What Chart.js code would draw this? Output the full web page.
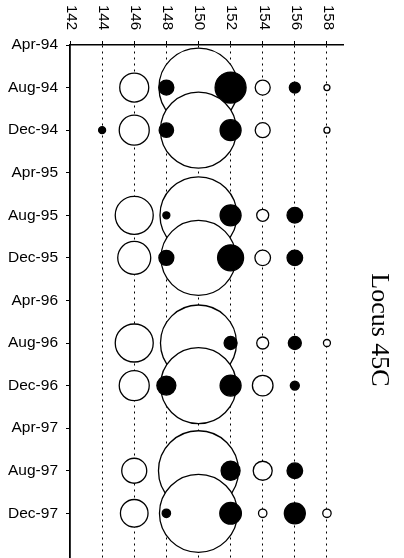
<!DOCTYPE html>
<html>
<head>
<meta charset="utf-8">
<script src="https://cdn.jsdelivr.net/npm/chart.js@4/dist/chart.umd.min.js"></script>
<style>
html,body{margin:0;padding:0;background:#fff;overflow:hidden;}
#c{display:block;}
</style>
</head>
<body>
<canvas id="c" width="404" height="558"></canvas>
<script>
// ---- data ----
const dates = ['Apr-94','Aug-94','Dec-94','Apr-95','Aug-95','Dec-95','Apr-96','Aug-96','Dec-96','Apr-97','Aug-97','Dec-97'];
const xTicks = [142,144,146,148,150,152,154,156,158];
const alleles = [144,146,148,150,152,154,156,158];
// bubble radius (px) of open circles, one row per date, one column per allele (0 = none)
const openSize = [
  [0, 0,    0, 0,    0, 0,    0, 0  ],
  [0, 14.5, 0, 39.5, 0, 7.5,  0, 3  ],
  [0, 15,   0, 38,   0, 7.5,  0, 3  ],
  [0, 0,    0, 0,    0, 0,    0, 0  ],
  [0, 19,   0, 38.5, 0, 6,    0, 0  ],
  [0, 16.5, 0, 37.5, 0, 7.8,  0, 0  ],
  [0, 0,    0, 0,    0, 0,    0, 0  ],
  [0, 19,   0, 38,   0, 6,    0, 3.5],
  [0, 15,   0, 38,   0, 10.3, 0, 0  ],
  [0, 0,    0, 0,    0, 0,    0, 0  ],
  [0, 12.5, 0, 40,   0, 9.5,  0, 0  ],
  [0, 13.8, 0, 39,   0, 4.2,  0, 4.2]
];
// bubble radius (px) of filled circles
const filledSize = [
  [0,   0, 0,   0, 0,    0, 0,    0],
  [0,   0, 7.5, 0, 15.5, 0, 5.5,  0],
  [3.5, 0, 7.2, 0, 10.5, 0, 0,    0],
  [0,   0, 0,   0, 0,    0, 0,    0],
  [0,   0, 3.5, 0, 10.5, 0, 7.8,  0],
  [0,   0, 7.5, 0, 13,   0, 7.8,  0],
  [0,   0, 0,   0, 0,    0, 0,    0],
  [0,   0, 0,   0, 6.5,  0, 6.5,  0],
  [0,   0, 9.5, 0, 10.5, 0, 4.5,  0],
  [0,   0, 0,   0, 0,    0, 0,    0],
  [0,   0, 0,   0, 9.5,  0, 7.8,  0],
  [0,   0, 4.2, 0, 10.8, 0, 10.5, 0]
];
const sideLabel = 'Locus 45C';

// ---- build points: row by row, open circles first, filled on top ----
const points = [], fills = [];
dates.forEach((d, i) => {
  alleles.forEach((a, j) => {
    if (openSize[i][j] > 0) { points.push({x: a, y: i, r: openSize[i][j]}); fills.push('#ffffff'); }
  });
  alleles.forEach((a, j) => {
    if (filledSize[i][j] > 0) { points.push({x: a, y: i, r: filledSize[i][j]}); fills.push('#000000'); }
  });
});

const topLabels = {
  id: 'topLabels',
  afterDraw(chart) {
    const ctx = chart.ctx, xs = chart.scales.x;
    ctx.save();
    ctx.fillStyle = '#000';
    ctx.font = '15px "Liberation Sans", Arial, sans-serif';
    ctx.textAlign = 'left';
    ctx.textBaseline = 'middle';
    xTicks.forEach(v => {
      ctx.save();
      ctx.translate(xs.getPixelForValue(v) + 1, 5);
      ctx.rotate(Math.PI / 2);
      ctx.fillText(String(v), 0, 0);
      ctx.restore();
    });
    ctx.font = '26px "Liberation Serif", "Times New Roman", serif';
    ctx.textAlign = 'center';
    ctx.textBaseline = 'alphabetic';
    ctx.translate(chart.chartArea.right + 29, 330);
    ctx.rotate(Math.PI / 2);
    ctx.fillText(sideLabel, 0, 0);
    ctx.restore();
  }
};

new Chart(document.getElementById('c'), {
  type: 'bubble',
  data: {
    datasets: [{
      data: points,
      backgroundColor: fills,
      borderColor: '#000',
      borderWidth: 1.3,
      hoverRadius: 0,
      hoverBorderWidth: 1.3
    }]
  },
  options: {
    responsive: false,
    animation: false,
    events: [],
    devicePixelRatio: 1,
    layout: { autoPadding: false, padding: { top: 0, left: 0, right: 61, bottom: 0 } },
    plugins: { legend: { display: false }, tooltip: { enabled: false } },
    scales: {
      x: {
        type: 'linear',
        position: 'top',
        min: 142,
        max: 159,
        afterBuildTicks: s => { s.ticks = xTicks.map(v => ({ value: v })); },
        afterFit: s => { s.height = 45; s.paddingLeft = 0; s.paddingRight = 0; },
        ticks: { display: false, stepSize: 2 },
        grid: {
          drawOnChartArea: true,
          drawTicks: true,
          tickLength: 4,
          tickColor: '#000',
          tickWidth: 1,
          lineWidth: 1,
          color: c => (c.tick && c.tick.value === 142) ? 'rgba(0,0,0,0)' : '#000'
        },
        border: { display: true, color: '#000', width: 1.5, dash: [2, 4] }
      },
      y: {
        type: 'linear',
        position: 'left',
        reverse: true,
        min: 0,
        max: 12.05,
        afterBuildTicks: s => { s.ticks = dates.map((d, i) => ({ value: i })); },
        afterFit: s => { s.width = 70; s.paddingTop = 0; s.paddingBottom = 0; },
        ticks: {
          stepSize: 1,
          padding: 8,
          color: '#000',
          font: { family: '"Liberation Sans", Arial, sans-serif', size: 15.5 },
          callback: v => dates[v]
        },
        grid: {
          drawOnChartArea: false,
          drawTicks: true,
          tickLength: 4,
          tickColor: '#000',
          tickWidth: 1
        },
        border: { display: true, color: '#000', width: 1.8 }
      }
    }
  },
  plugins: [topLabels]
});
</script>
</body>
</html>
